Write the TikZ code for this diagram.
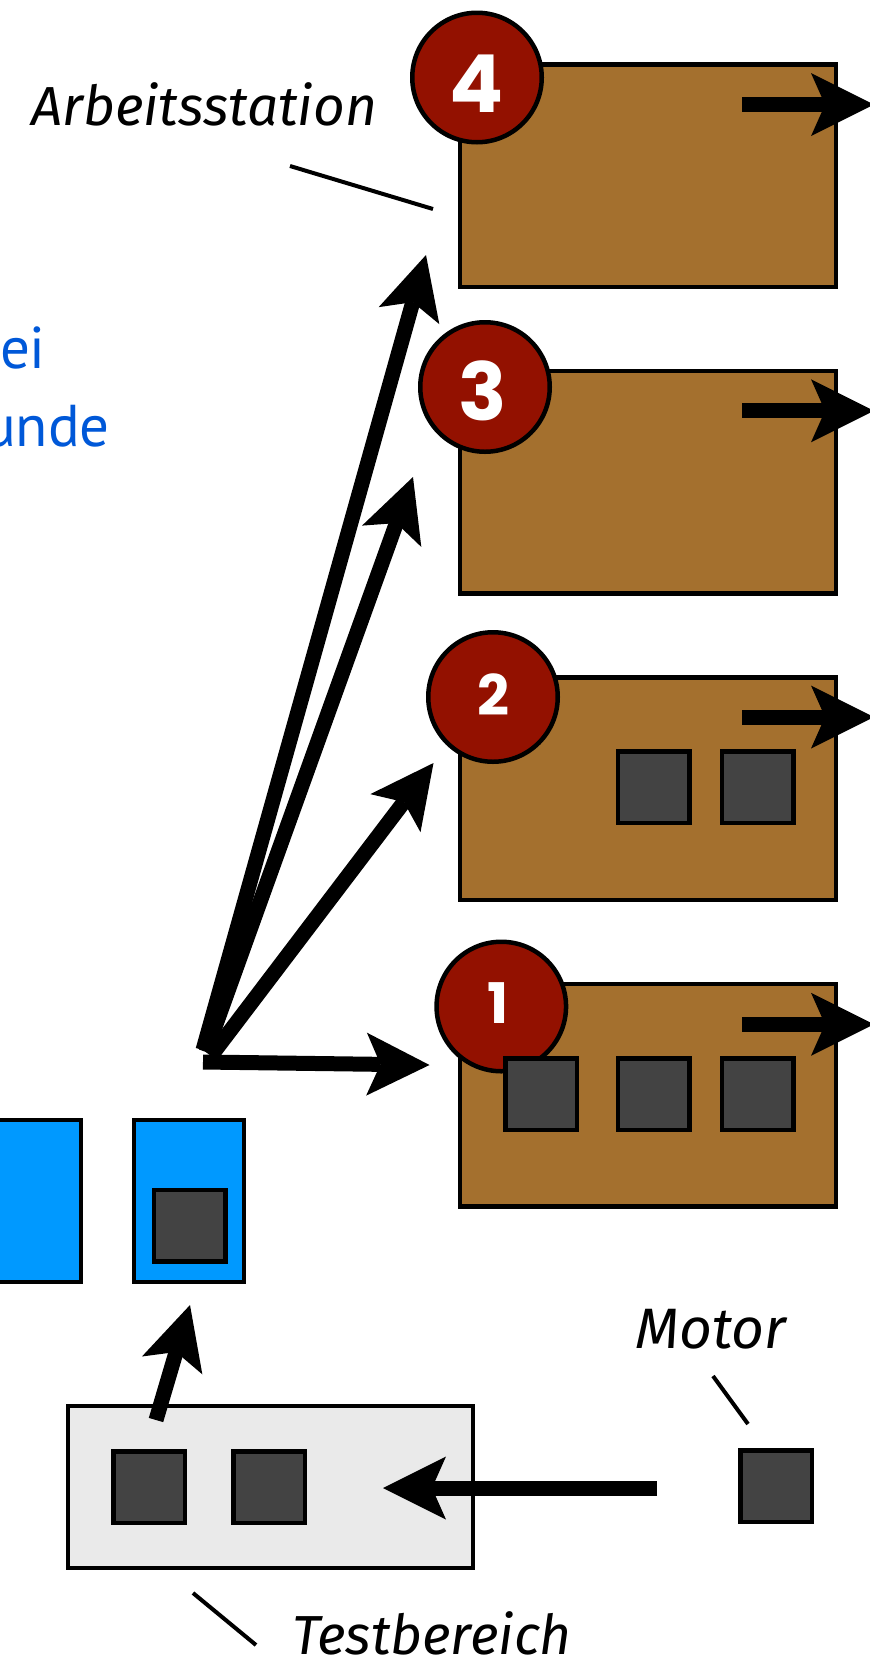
\documentclass[tikz,border=0pt]{standalone}
\usepackage{fontspec}
\usetikzlibrary{arrows.meta}
\newfontfamily\labelfont{Fira Sans}
\newfontfamily\numfont{Poppins}
\newfontfamily\bluefont{PT Sans}
\definecolor{brownfill}{HTML}{A4702E}
\definecolor{redfill}{HTML}{931100}
\definecolor{darkgray}{HTML}{434343}
\definecolor{bluefill}{HTML}{0099FF}
\definecolor{lightfill}{HTML}{EAEAEA}
\definecolor{bluetext}{HTML}{0058D8}
\begin{document}
\begin{tikzpicture}[x=1pt,y=-1pt,
  station/.style={draw=black, line width=4.5pt, fill=brownfill, rectangle, inner sep=0pt,
    minimum width=376.3pt, minimum height=222.5pt},
  numcirc/.style={draw=black, line width=4.5pt, fill=redfill, circle, inner sep=0pt, minimum size=129.5pt},
  bignum/.style={text=white, inner sep=0pt, font=\numfont\bfseries\fontsize{80}{80}\selectfont},
  smallnum/.style={text=white, inner sep=0pt, font=\numfont\bfseries\fontsize{56}{56}\selectfont},
  motorsq/.style={draw=black, line width=4.5pt, fill=darkgray, rectangle, inner sep=0pt, minimum size=71.5pt},
  bluebox/.style={draw=black, line width=4.5pt, fill=bluefill},
  testbox/.style={draw=black, line width=4.5pt, fill=lightfill, rectangle, inner sep=0pt},
  bigarrow/.style={line width=15pt, -{Stealth[length=63pt,width=63pt,inset=14pt,line width=0pt]}},
  annot/.style={line width=4pt},
  lbl/.style={inner sep=0pt, font=\labelfont\itshape\fontsize{55}{60}\selectfont},
  bluetxt/.style={inner sep=0pt, text=bluetext, font=\bluefont\fontsize{59}{60}\selectfont}
]
\useasboundingbox (0,0) rectangle (870,1668);
\clip (0,0) rectangle (870,1668);

% stations
\node[station] (b4) at (647.9,175.5) {};
\node[station] (b3) at (647.9,482) {};
\node[station] (b2) at (647.9,788.5) {};
\node[station] (b1) at (647.9,1095) {};

% number circles
\node[numcirc] (c4) at (477,77.5) {};
\node[numcirc] (c3) at (485,387) {};
\node[numcirc] (c2) at (493,697) {};
\node[numcirc] (c1) at (501.3,1006.5) {};
\node[bignum] (n4) at (477,83.5) {4};
\node[bignum] (n3) at (483,391) {3};
\node[smallnum] (n2) at (493,695) {2};
\node[smallnum] (n1) at (498,1003) {1};

% motors on stations
\node[motorsq] (m11) at (541,1094) {};
\node[motorsq] (m12) at (653.5,1094) {};
\node[motorsq] (m13) at (757.5,1094) {};
\node[motorsq] (m21) at (653.5,787) {};
\node[motorsq] (m22) at (757.5,787) {};

% outgoing arrows of stations
\coordinate (o4a) at (742,104.6); \coordinate (o4b) at (874,104.6);
\coordinate (o3a) at (742,410.8); \coordinate (o3b) at (874,410.8);
\coordinate (o2a) at (742,717);   \coordinate (o2b) at (874,717);
\coordinate (o1a) at (742,1024.3); \coordinate (o1b) at (874,1024.3);
\draw[bigarrow] (o4a) -- (o4b);
\draw[bigarrow] (o3a) -- (o3b);
\draw[bigarrow] (o2a) -- (o2b);
\draw[bigarrow] (o1a) -- (o1b);

% fan arrows
\coordinate (s4) at (203,1050); \coordinate (t4) at (426,255);
\coordinate (s3) at (206,1052); \coordinate (t3) at (413,477);
\coordinate (s2) at (211,1056); \coordinate (t2) at (433.5,763);
\coordinate (s1) at (203,1062); \coordinate (t1) at (429.5,1065);
\draw[bigarrow] (s4) -- (t4);
\draw[bigarrow] (s3) -- (t3);
\draw[bigarrow] (s2) -- (t2);
\draw[bigarrow] (s1) -- (t1);

% blue boxes
\draw[bluebox] (-40,1120) rectangle (81,1282);
\node[bluebox, rectangle, inner sep=0pt, minimum width=110pt, minimum height=162pt] (bb) at (189,1201) {};
\node[motorsq] (mb) at (189.5,1225.5) {};

% test area
\node[testbox, minimum width=405pt, minimum height=162pt] (test) at (270.5,1487) {};
\node[motorsq] (mt1) at (149,1487) {};
\node[motorsq] (mt2) at (269,1487) {};
\node[motorsq] (motor) at (776,1486) {};

\coordinate (up1) at (156,1420); \coordinate (up2) at (190,1305);
\draw[bigarrow] (up1) -- (up2);
\coordinate (ma) at (657,1488); \coordinate (mb2) at (383,1488);
\draw[bigarrow] (ma) -- (mb2);

% labels
\node[lbl, anchor=base west] (arb) at (31,125) {Arbeitsstation};
\node[lbl, anchor=base west, font=\labelfont\itshape\fontsize{57}{60}\selectfont] (mot) at (635,1348) {Motor};
\node[lbl, anchor=base west] (tst) at (292,1654) {Testbereich};
\coordinate (la1) at (290,166); \coordinate (la2) at (433,209);
\coordinate (lm1) at (713,1376); \coordinate (lm2) at (748,1424);
\coordinate (lt1) at (193,1593); \coordinate (lt2) at (256,1645);
\draw[annot] (la1) -- (la2);
\draw[annot] (lm1) -- (lm2);
\draw[annot] (lt1) -- (lt2);

% blue text, cropped at the left edge as in the reference
\node[bluetxt, anchor=base east] (bei) at (46,368) {bei};
\node[bluetxt, anchor=base east] (unde) at (110,446) {unde};
\end{tikzpicture}
\end{document}
